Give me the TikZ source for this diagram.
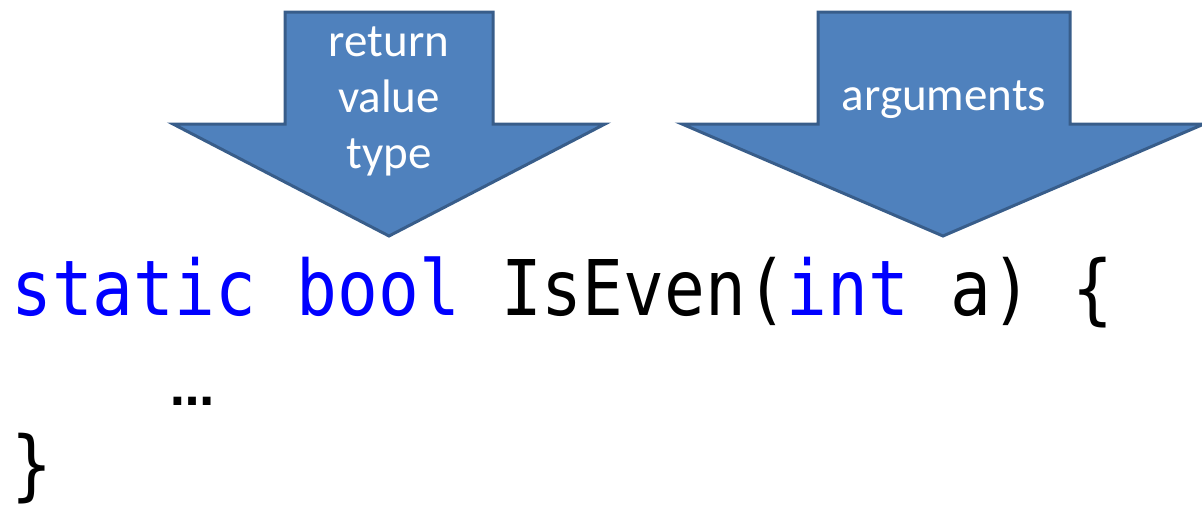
\documentclass[tikz,border=0pt]{standalone}
\usepackage{fontspec}
\newfontfamily\labelfont{Carlito}
\newfontfamily\codefont[FakeStretch=0.883]{DejaVu Sans Mono}
\newfontfamily\dotsfont{DejaVu Sans Bold}
\definecolor{arrowfill}{HTML}{4F81BD}
\definecolor{arrowedge}{HTML}{385D8A}
\definecolor{kwblue}{HTML}{0000FF}

\begin{document}
\begin{tikzpicture}[x=1pt, y=-1pt,
  blockarrow/.style={fill=arrowfill, draw=arrowedge, line width=3pt},
  arrowlabel/.style={text=white, align=center, inner sep=0pt,
    font=\labelfont\fontsize{47}{56}\selectfont},
  code/.style={anchor=base west, inner sep=0pt,
    font=\codefont\fontsize{76.8}{89}\selectfont}]
  \useasboundingbox (0,0) rectangle (1202,507);
  % the two block arrows
  \draw[blockarrow] (285,12) -- (493,12) -- (493,124) -- (605,124)
    -- (389,236) -- (173,124) -- (285,124) -- cycle;
  \draw[blockarrow] (818,12) -- (1070,12) -- (1070,124) -- (1204,124)
    -- (943,236) -- (682,124) -- (818,124) -- cycle;
  \node[arrowlabel] (rettype) at (389,101) {return\\value\\type};
  \node[arrowlabel, anchor=base] (args) at (944,110) {arguments};
  % the code lines
  \node[code] (sig) at (11,315)
    {\textcolor{kwblue}{static bool} IsEven(\textcolor{kwblue}{int} a) \{};
  \node[code, font=\dotsfont\fontsize{44}{50}\selectfont] (body) at (170,405) {…};
  \node[code] (close) at (11,491) {\}};
\end{tikzpicture}
\end{document}
